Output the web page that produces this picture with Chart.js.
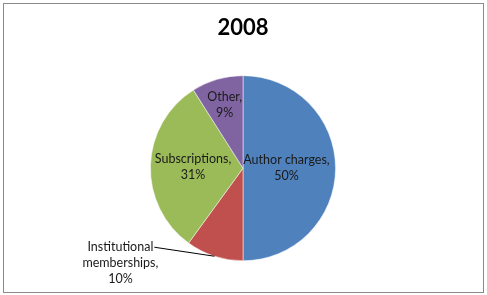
<!DOCTYPE html>
<html>
<head>
<meta charset="utf-8">
<script src="https://cdn.jsdelivr.net/npm/chart.js@4/dist/chart.umd.min.js"></script>
<style>
html,body{margin:0;padding:0;background:#fff;}
#wrap{width:487px;height:295px;position:relative;}
</style>
</head>
<body>
<div id="wrap"><canvas id="c" width="487" height="295"></canvas></div>
<script>
const categories = ["Author charges", "Institutional memberships", "Subscriptions", "Other"];
const values = [50, 10, 31, 9];
const labelLines = [["Author charges,", "50%"], ["Institutional", "memberships,", "10%"], ["Subscriptions,", "31%"], ["Other,", "9%"]];
const colors = ["#4F81BD", "#C0504D", "#9BBB59", "#8064A2"];
const titleText = "2008";

const FONT = "Lato, 'Liberation Sans', sans-serif";

const labelRadiusFrac = [0.47, null, 0.54, 0.71];

const framePlugin = {
  id: 'frame',
  beforeDraw(chart) {
    const ctx = chart.ctx;
    ctx.save();
    ctx.fillStyle = '#fff';
    ctx.fillRect(0, 0, chart.width, chart.height);
    ctx.strokeStyle = '#8a8a8a';
    ctx.lineWidth = 1;
    ctx.strokeRect(3.5, 3.5, 480, 289);
    ctx.restore();
  }
};

const labelPlugin = {
  id: 'sliceLabels',
  afterDatasetsDraw(chart) {
    const ctx = chart.ctx;
    const meta = chart.getDatasetMeta(0);
    ctx.save();
    ctx.font = "12.5px " + FONT;
    ctx.fillStyle = '#1a1a1a';
    ctx.textAlign = 'center';
    ctx.textBaseline = 'middle';
    const lh = 16;
    meta.data.forEach((arc, i) => {
      const p = arc.getProps(['x', 'y', 'startAngle', 'endAngle', 'outerRadius'], true);
      const mid = (p.startAngle + p.endAngle) / 2;
      const lines = labelLines[i];
      if (labelRadiusFrac[i] !== null) {
        const r = p.outerRadius * labelRadiusFrac[i];
        const cx = p.x + Math.cos(mid) * r;
        const cy = p.y + Math.sin(mid) * r;
        lines.forEach((t, k) => {
          ctx.fillText(t, cx, cy + (k - (lines.length - 1) / 2) * lh);
        });
      } else {
        // outside label with leader line
        const ex = p.x + Math.cos(mid) * p.outerRadius;
        const ey = p.y + Math.sin(mid) * p.outerRadius;
        const tx = ex - 94;
        const ty = ey + 7;
        lines.forEach((t, k) => {
          ctx.fillText(t, tx, ty + (k - 1) * lh);
        });
        const w = ctx.measureText(lines[0]).width;
        ctx.beginPath();
        ctx.strokeStyle = '#000';
        ctx.lineWidth = 1;
        ctx.moveTo(tx + w / 2 + 1, ty - lh);
        ctx.lineTo(ex, ey);
        ctx.stroke();
      }
    });
    ctx.restore();
  }
};

new Chart(document.getElementById('c'), {
  type: 'pie',
  data: {
    labels: categories,
    datasets: [{
      data: values,
      backgroundColor: colors,
      borderColor: '#ffffff',
      borderWidth: 0.5
    }]
  },
  options: {
    responsive: false,
    animation: false,
    layout: { padding: { top: 6, bottom: 34, left: 0, right: 1 } },
    plugins: {
      legend: { display: false },
      tooltip: { enabled: false },
      title: {
        display: true,
        text: titleText,
        color: '#000',
        font: { family: FONT, size: 22, weight: 'bold' },
        padding: { top: 9, bottom: 34 }
      }
    }
  },
  plugins: [framePlugin, labelPlugin]
});
</script>
</body>
</html>
